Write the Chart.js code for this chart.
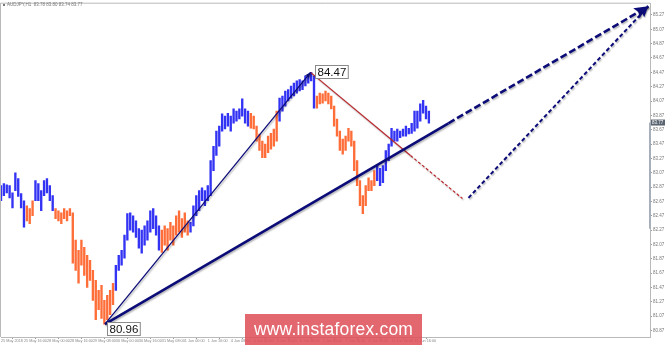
<!DOCTYPE html>
<html>
<head>
<meta charset="utf-8">
<script src="https://cdn.jsdelivr.net/npm/chart.js@4.4.1/dist/chart.umd.min.js"></script>
<style>
html,body{margin:0;padding:0;background:#fff;}
#wrap{position:relative;width:665px;height:345px;overflow:hidden;background:#fff;}
canvas{display:block;}
#wm{position:absolute;left:245px;top:314px;width:177px;height:31px;background:rgba(222,76,86,0.85);color:#fff;
font:17.5px "Liberation Sans",Arial,sans-serif;display:flex;align-items:center;justify-content:center;letter-spacing:0.2px;}
</style>
</head>
<body>
<div id="wrap">
<canvas id="c" width="665" height="345"></canvas>
<div id="wm">www.instaforex.com</div>
</div>
<script>
// ---- data ----
const symbolTitle = 'AUDJPY,H1  83.78 83.80 83.74 83.77';
const timeLabels = ['25 May 2018','25 May 16:00','28 May 00:00','28 May 16:00','29 May 08:00','30 May 00:00',
  '30 May 16:00','31 May 08:00','1 Jun 00:00','1 Jun 16:00','4 Jun 08:00','5 Jun 00:00','5 Jun 16:00',
  '6 Jun 08:00','7 Jun 00:00','7 Jun 16:00','8 Jun 08:00','11 Jun 00:00','11 Jun 16:00'];
const barsPerLabel = 8;
const yTicks = [85.27,85.07,84.87,84.67,84.47,84.27,84.07,83.87,83.67,83.47,83.27,83.07,82.87,82.67,
  82.47,82.27,82.07,81.87,81.67,81.47,81.27,81.07,80.87];
const barHigh = [
 82.89,82.92,82.90,82.89,82.79,83.07,82.99,82.78,82.68,82.61,
 82.57,82.68,82.96,82.92,82.82,82.96,82.99,82.89,82.75,82.57,
 82.54,82.51,82.57,82.54,82.57,82.51,82.13,81.99,82.13,82.03,
 81.92,81.85,81.71,81.57,81.43,81.50,81.29,81.36,81.43,81.53,
 81.78,81.92,81.99,82.20,82.50,82.51,82.47,82.40,82.29,82.27,
 82.33,82.40,82.54,82.57,82.47,82.33,82.27,82.33,82.29,82.38,
 82.33,82.47,82.54,82.43,82.51,82.40,82.38,82.61,82.75,82.82,
 82.86,82.82,82.89,83.24,83.44,83.65,83.72,83.89,83.86,83.90,
 83.86,83.96,83.93,83.96,84.10,83.96,83.93,83.90,83.86,83.72,
 83.61,83.51,83.47,83.58,83.62,83.68,83.93,84.11,84.14,84.21,
 84.23,84.28,84.32,84.35,84.37,84.35,84.42,84.44,84.47,84.42,
 84.14,84.18,84.17,84.21,84.18,84.14,84.00,83.82,83.65,83.54,
 83.58,83.69,83.65,83.51,83.24,82.96,82.75,82.89,83.00,82.96,
 83.10,83.17,83.13,83.17,83.38,83.47,83.69,83.65,83.68,83.65,
 83.68,83.72,83.69,83.76,83.93,83.93,84.03,84.08,84.00,83.93];
const barLow = [
 82.68,82.75,82.79,82.72,82.58,82.82,82.74,82.58,82.31,82.40,
 82.36,82.47,82.68,82.68,82.54,82.75,82.79,82.68,82.54,82.43,
 82.40,82.36,82.43,82.40,82.47,81.81,81.71,81.53,81.78,81.64,
 81.47,81.57,81.29,81.02,81.16,81.04,80.96,81.02,81.09,81.23,
 81.43,81.71,81.78,81.88,82.13,82.27,82.24,82.17,82.02,81.95,
 82.06,82.13,82.24,82.29,82.20,81.99,81.96,82.06,81.99,82.13,
 82.06,82.20,82.24,82.17,82.24,82.20,82.24,82.33,82.47,82.54,
 82.68,82.61,82.68,82.75,83.10,83.31,83.44,83.65,83.68,83.72,
 83.65,83.76,83.79,83.82,83.86,83.76,83.72,83.69,83.68,83.51,
 83.38,83.28,83.28,83.35,83.40,83.44,83.51,83.79,83.93,84.00,
 84.07,84.11,84.14,84.18,84.21,84.23,84.28,84.32,84.35,83.97,
 83.97,84.03,84.04,84.07,84.03,83.96,83.72,83.58,83.38,83.33,
 83.38,83.51,83.44,83.10,82.89,82.61,82.50,82.61,82.82,82.82,
 82.89,82.96,82.89,82.93,83.10,83.24,83.44,83.51,83.51,83.56,
 83.58,83.58,83.61,83.62,83.65,83.69,83.79,83.90,83.82,83.76];
// first bar index of each wave (up, down, up, ...)
const waveBreaks = [0,9,12,19,40,56,66,87,97,110,131];
const lastPrice = 83.77;
const rangeLow = 82.29;
// wave lines: bar index, price
const impulseX = [36.2, 107.8];          const impulseY = [80.96, 84.47];
const trendX = [36.2, 155.8, 225.4];     const trendY = [80.96, 83.76, 85.39];
const corrX = [107.8, 142.6, 160.7];     const corrY = [84.47, 83.31, 82.71];
const targetX = [162.8, 225.4];          const targetY = [82.72, 85.39];
const xMin = 0, xMax = 226, yMin = 80.78, yMax = 85.427;

// ---- styles ----
const BLUE = '#3333f4', ORANGE = '#ff6d38', NAVY = '#0c0c78', RED = '#b8262c';
const FONT = '"Liberation Sans", Arial, sans-serif';

const pts = (xs, ys) => xs.map((x, i) => ({x, y: ys[i]}));
const bars = barHigh.map((h, i) => ({x: i, y: [barLow[i], h]}));
const barColors = bars.map((_, i) => {
  let k = 0;
  waveBreaks.forEach((b, j) => { if (i >= b) k = j; });
  return k % 2 === 0 ? BLUE : ORANGE;
});

const decoPlugin = {
  id: 'deco',
  beforeDraw(chart) {
    const {ctx, width, height} = chart;
    ctx.save(); ctx.fillStyle = '#fff'; ctx.fillRect(0, 0, width, height); ctx.restore();
  },
  beforeDatasetDraw(chart, args) {
    const ds = chart.data.datasets[args.index];
    if (ds.shadow) {
      const ctx = chart.ctx;
      ctx.save();
      ctx.shadowColor = 'rgba(0,0,0,0.28)';
      ctx.shadowOffsetX = 1; ctx.shadowOffsetY = 1.5; ctx.shadowBlur = 1.5;
    }
  },
  afterDatasetDraw(chart, args) {
    const ds = chart.data.datasets[args.index];
    if (ds.shadow) chart.ctx.restore();
  },
  afterDatasetsDraw(chart) {
    const {ctx, scales} = chart;
    chart.data.datasets.forEach((ds, i) => {
      if (!ds.arrow) return;
      const d = chart.getDatasetMeta(i).data;
      const p1 = d[d.length - 1], p0 = d[d.length - 2];
      const a = Math.atan2(p1.y - p0.y, p1.x - p0.x);
      const s = ds.arrow, w = s * 0.42;
      ctx.save();
      ctx.shadowColor = 'rgba(0,0,0,0.25)'; ctx.shadowOffsetX = 1; ctx.shadowOffsetY = 1; ctx.shadowBlur = 1;
      ctx.fillStyle = ds.borderColor;
      ctx.translate(p1.x, p1.y); ctx.rotate(a);
      ctx.beginPath(); ctx.moveTo(0, 0); ctx.lineTo(-s, -w); ctx.lineTo(-s * 0.8, 0); ctx.lineTo(-s, w); ctx.closePath();
      ctx.fill();
      ctx.restore();
    });
    const lbl = (xv, yv, dx, dy) => {
      const px = scales.x.getPixelForValue(xv), py = scales.y.getPixelForValue(yv);
      const t = yv.toFixed(2);
      ctx.save();
      ctx.font = '11.5px ' + FONT;
      const tw = ctx.measureText(t).width;
      const bx = Math.round(px + dx) + 0.5, by = Math.round(py + dy) + 0.5;
      ctx.fillStyle = '#fff'; ctx.fillRect(bx, by, tw + 4, 13);
      ctx.strokeStyle = '#8a8a8a'; ctx.lineWidth = 1; ctx.strokeRect(bx, by, tw + 4, 13);
      ctx.fillStyle = '#111'; ctx.textBaseline = 'middle'; ctx.fillText(t, bx + 2, by + 7);
      ctx.restore();
    };
    lbl(impulseX[0], impulseY[0], 2, -2);
    lbl(impulseX[1], impulseY[1], 4, -7);
  },
  afterDraw(chart) {
    const {ctx, chartArea: ca, scales} = chart;
    ctx.save();
    ctx.strokeStyle = '#b9b9b9'; ctx.lineWidth = 1;
    ctx.beginPath();
    ctx.moveTo(ca.left - 0.5, ca.bottom); ctx.lineTo(ca.left - 0.5, ca.top - 0.5); ctx.lineTo(ca.right, ca.top - 0.5);
    ctx.stroke();
    ctx.fillStyle = '#777'; ctx.font = '4.5px ' + FONT; ctx.textBaseline = 'middle';
    ctx.fillRect(3, 4, 2, 2);
    ctx.fillText(symbolTitle, 7, 5);
    const y1 = scales.y.getPixelForValue(lastPrice), y2 = scales.y.getPixelForValue(rangeLow);
    ctx.fillStyle = '#a7afba'; ctx.fillRect(ca.right - 1, y1, 2, y2 - y1);
    ctx.fillStyle = '#5a6470'; ctx.fillRect(ca.right + 1, y1 - 3, 14, 6);
    ctx.fillStyle = '#fff'; ctx.fillText(lastPrice.toFixed(2), ca.right + 2, y1 + 0.3);
    ctx.restore();
  }
};

new Chart(document.getElementById('c'), {
  type: 'bar',
  data: {
    datasets: [
      {type: 'bar', data: bars, backgroundColor: barColors, borderWidth: 0, barThickness: 1.7, grouped: false, order: 10},
      {type: 'line', data: pts(trendX, trendY), borderColor: NAVY, borderWidth: 2.6, pointRadius: 0, tension: 0,
        segment: {borderDash: c => c.p0DataIndex >= 1 ? [7, 3] : undefined}, arrow: 14, shadow: true, order: 1},
      {type: 'line', data: pts(targetX, targetY), borderColor: NAVY, borderWidth: 2, borderDash: [4, 2.5],
        pointRadius: 0, tension: 0, arrow: 11, shadow: true, order: 2},
      {type: 'line', data: pts(impulseX, impulseY), borderColor: NAVY, borderWidth: 1.3, pointRadius: 0, tension: 0,
        arrow: 6, shadow: true, order: 3},
      {type: 'line', data: pts(corrX, corrY), borderColor: RED, borderWidth: 1.2, pointRadius: 0, tension: 0,
        segment: {borderDash: c => c.p0DataIndex >= 1 ? [3, 2] : undefined}, shadow: true, order: 4}
    ]
  },
  options: {
    responsive: false, animation: false,
    layout: {padding: {left: 1, top: 2, right: 0, bottom: 0}},
    plugins: {legend: {display: false}, tooltip: {enabled: false}, title: {display: false}},
    scales: {
      x: {
        type: 'linear', min: xMin, max: xMax, offset: false,
        afterBuildTicks: s => { s.ticks = timeLabels.map((_, k) => ({value: k * barsPerLabel})); },
        afterFit: s => { s.height = 8; },
        ticks: {autoSkip: false, maxRotation: 0, minRotation: 0, align: 'start', padding: 0,
          font: {size: 3.8, family: FONT}, color: '#888',
          callback: v => timeLabels[Math.round(v / barsPerLabel)] || ''},
        grid: {drawOnChartArea: false, drawTicks: true, tickLength: 2, color: '#999'},
        border: {display: true, color: '#b9b9b9'}
      },
      y: {
        position: 'right', min: yMin, max: yMax,
        afterBuildTicks: s => { s.ticks = yTicks.map(v => ({value: v})); },
        afterFit: s => { s.width = 15; },
        ticks: {padding: 1, font: {size: 4.5, family: FONT}, color: '#777', callback: v => v.toFixed(2)},
        grid: {drawOnChartArea: false, drawTicks: true, tickLength: 2, color: '#999'},
        border: {display: true, color: '#b9b9b9'}
      }
    }
  },
  plugins: [decoPlugin]
});
</script>
</body>
</html>
